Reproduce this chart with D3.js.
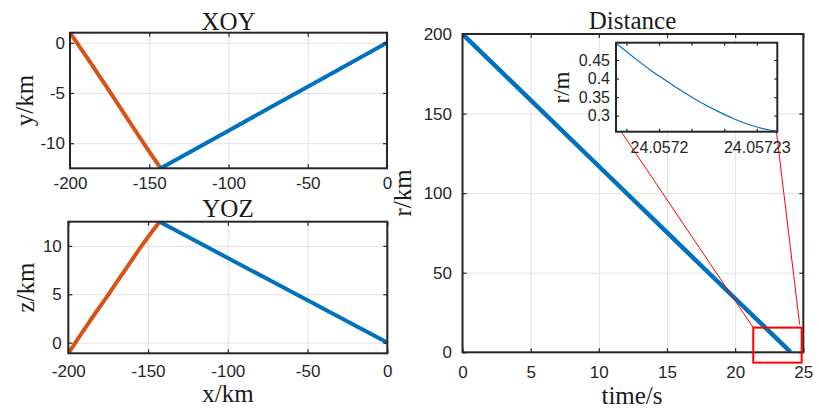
<!DOCTYPE html>
<html><head><meta charset="utf-8">
<script src="https://cdn.jsdelivr.net/npm/d3@7"></script>
<style>body{margin:0;background:#fff}svg{display:block}</style>
</head><body>
<svg id="c" width="819" height="412"></svg>
<script>
// ---------- data ----------
const xoyTicksX = [-200, -150, -100, -50, 0];
const xoyTicksY = [-10, -5, 0];
const yozTicksY = [0, 5, 10];
const distTicksX = [0, 5, 10, 15, 20, 25];
const distTicksY = [0, 50, 100, 150, 200];
const insetTicksX = [24.05719, 24.0572, 24.05721, 24.05722, 24.05723];
const insetLabelsX = ["", "24.0572", "", "", "24.05723"];
const insetTicksY = [0.3, 0.35, 0.4, 0.45];
const insetLabelsY = ["0.3", "0.35", "0.4", "0.45"];

// stage 1 (orange) and stage 2 (blue) trajectories, km
const stage1X = [-200, -187, -174.8, -164, -153.8, -142.8];
const stage1Y = [1, -2.0, -4.9, -7.5, -9.95, -12.5];
const stage1Z = [-1.1, 2.1, 5.0, 7.6, 10.05, 12.5];
const stage2X = [-142.8, -100, -50, 0];
const stage2Y = [-12.5, -8.75, -4.38, 0];
const stage2Z = [12.5, 8.75, 4.38, 0];

// distance vs time
const distTime = [0, 5, 10, 15, 20, 24.0572];
const distR = [200, 158.4, 116.9, 75.3, 33.8, 0.26];

// zoomed segment (inset), time in s, distance in m
const zoomTime = [24.0571868, 24.0571921, 24.0571972, 24.0572024, 24.0572075, 24.0572126, 24.0572178, 24.0572229, 24.057228, 24.0572331, 24.057236];
const zoomR = [0.495, 0.458, 0.424, 0.393, 0.364, 0.337, 0.313, 0.292, 0.275, 0.263, 0.2585];

// zoom rectangle on main distance plot (data coords)
const zoomBoxT = [21.33, 24.88];
const zoomBoxR = [-6.5, 15.5];

// ---------- drawing ----------
const svg = d3.select('#c');
const BLUE = '#0072BD', ORANGE = '#D95319', AX = '#262626', GRID = '#e3e3e3';
const SANS = '"Liberation Sans", Arial, sans-serif';
const SERIF = '"Liberation Serif", "Times New Roman", serif';
let clipId = 0;

function panel(c) {
  const x = d3.scaleLinear().domain(c.xd).range([c.l, c.r]);
  const y = d3.scaleLinear().domain(c.yd).range([c.b, c.t]);
  const g = svg.append('g');
  g.append('rect').attr('x', c.l).attr('y', c.t).attr('width', c.r - c.l).attr('height', c.b - c.t).attr('fill', '#fff');
  if (c.grid) {
    g.append('g').attr('transform', `translate(0,${c.b})`)
      .call(d3.axisBottom(x).tickValues(c.xt).tickSize(-(c.b - c.t)).tickFormat(''))
      .call(s => { s.select('.domain').remove(); s.selectAll('line').attr('stroke', GRID).attr('stroke-width', 1); });
    g.append('g').attr('transform', `translate(${c.l},0)`)
      .call(d3.axisLeft(y).tickValues(c.yt).tickSize(-(c.r - c.l)).tickFormat(''))
      .call(s => { s.select('.domain').remove(); s.selectAll('line').attr('stroke', GRID).attr('stroke-width', 1); });
  }
  const id = 'clip' + (clipId++);
  g.append('clipPath').attr('id', id).append('rect')
    .attr('x', c.l).attr('y', c.t).attr('width', c.r - c.l).attr('height', c.b - c.t);
  const plot = g.append('g').attr('clip-path', `url(#${id})`);
  return { x, y, g, plot, c };
}

function finish(p) {
  const { x, y, g, c } = p;
  const tl = c.tl || 4;
  const style = s => {
    s.select('.domain').remove();
    s.selectAll('line').attr('stroke', AX).attr('stroke-width', 1.2);
    s.selectAll('text').attr('font-family', SANS).attr('font-size', c.fs).attr('fill', AX);
  };
  const fx = c.xf || (d => String(d));
  const fy = c.yf || (d => String(d));
  g.append('g').attr('transform', `translate(0,${c.b})`)
    .call(d3.axisBottom(x).tickValues(c.xt).tickSize(-tl).tickPadding(c.xpad).tickFormat(fx)).call(style);
  g.append('g').attr('transform', `translate(0,${c.t})`)
    .call(d3.axisTop(x).tickValues(c.xt).tickSize(-tl).tickFormat('')).call(style);
  g.append('g').attr('transform', `translate(${c.l},0)`)
    .call(d3.axisLeft(y).tickValues(c.yt).tickSize(-tl).tickPadding(c.ypad).tickFormat(fy)).call(style);
  g.append('g').attr('transform', `translate(${c.r},0)`)
    .call(d3.axisRight(y).tickValues(c.yt).tickSize(-tl).tickFormat('')).call(style);
  g.append('rect').attr('x', c.l).attr('y', c.t).attr('width', c.r - c.l).attr('height', c.b - c.t)
    .attr('fill', 'none').attr('stroke', AX).attr('stroke-width', c.bw || 2);
}

function path(p, xs, ys, color, w, curve) {
  const line = d3.line().x((d, i) => p.x(xs[i])).y((d, i) => p.y(ys[i])).curve(curve || d3.curveMonotoneX);
  p.plot.append('path').attr('d', line(xs)).attr('fill', 'none')
    .attr('stroke', color).attr('stroke-width', w).attr('stroke-linejoin', 'round');
}

function text(str, x, y, size, family, rot) {
  const t = svg.append('text').attr('x', x).attr('y', y).attr('text-anchor', 'middle')
    .attr('font-family', family).attr('font-size', size).attr('fill', '#1a1a1a').text(str);
  if (rot) t.attr('transform', `rotate(-90,${x},${y})`);
  return t;
}

// XOY
const p1 = panel({ l: 70, r: 387, t: 32.7, b: 168.3, xd: [-200, 0], yd: [-12.5, 1], xt: xoyTicksX, yt: xoyTicksY, grid: true, fs: 17, xpad: 9, ypad: 5 });
path(p1, stage1X, stage1Y, ORANGE, 4);
path(p1, stage2X, stage2Y, BLUE, 4);
finish(p1);
text('XOY', 228.5, 29.5, 25, SERIF);
text('y/km', 33, 100.5, 25, SERIF, true);

// YOZ
const p2 = panel({ l: 68.3, r: 387.3, t: 221.7, b: 353.3, xd: [-200, 0], yd: [-1.1, 12.5], xt: xoyTicksX, yt: yozTicksY, grid: true, fs: 17, xpad: 11.5, ypad: 6.5 });
path(p2, stage1X, stage1Z, ORANGE, 4);
path(p2, stage2X, stage2Z, BLUE, 4);
finish(p2);
text('YOZ', 228, 217, 25, SERIF);
text('z/km', 34, 287.5, 25, SERIF, true);
text('x/km', 228, 401.5, 25, SERIF);

// Distance
const p3 = panel({ l: 462.5, r: 803.3, t: 34, b: 352.3, xd: [0, 25], yd: [0, 200], xt: distTicksX, yt: distTicksY, grid: true, fs: 17, xpad: 14, ypad: 10.5 });
path(p3, distTime, distR, BLUE, 4.5, d3.curveLinear);
finish(p3);
text('Distance', 632.5, 28.5, 25, SERIF);
text('r/km', 411, 193, 25, SERIF, true);
text('time/s', 632, 404, 25, SERIF);

// zoom rectangle
const bx0 = p3.x(zoomBoxT[0]), bx1 = p3.x(zoomBoxT[1]);
const by0 = p3.y(zoomBoxR[1]), by1 = p3.y(zoomBoxR[0]);
svg.append('rect').attr('x', bx0).attr('y', by0).attr('width', bx1 - bx0).attr('height', by1 - by0)
  .attr('fill', 'none').attr('stroke', '#ff0000').attr('stroke-width', 2);

// inset
const inL = 616, inR = 777.3, inT = 42.7, inB = 131.7;
svg.append('line').attr('x1', inL + 4.5).attr('y1', inB - 1).attr('x2', bx0).attr('y2', by0).attr('stroke', '#ff0000').attr('stroke-width', 1);
svg.append('line').attr('x1', inR - 1).attr('y1', inB - 1).attr('x2', bx1 - 2).attr('y2', by0 - 3).attr('stroke', '#ff0000').attr('stroke-width', 1);

const p4 = panel({ l: inL, r: inR, t: inT, b: inB, xd: [24.0571868, 24.0572363], yd: [0.257, 0.4965], xt: insetTicksX, yt: insetTicksY, grid: false, fs: 16, xpad: 10, ypad: 6, tl: 3,
  xf: d => insetLabelsX[insetTicksX.findIndex(v => Math.abs(v - d) < 1e-9)],
  yf: d => insetLabelsY[insetTicksY.findIndex(v => Math.abs(v - d) < 1e-9)] });
path(p4, zoomTime, zoomR, BLUE, 1.2);
finish(p4);
text('r/m', 569, 87.5, 23, SERIF, true);
</script>
</body></html>
